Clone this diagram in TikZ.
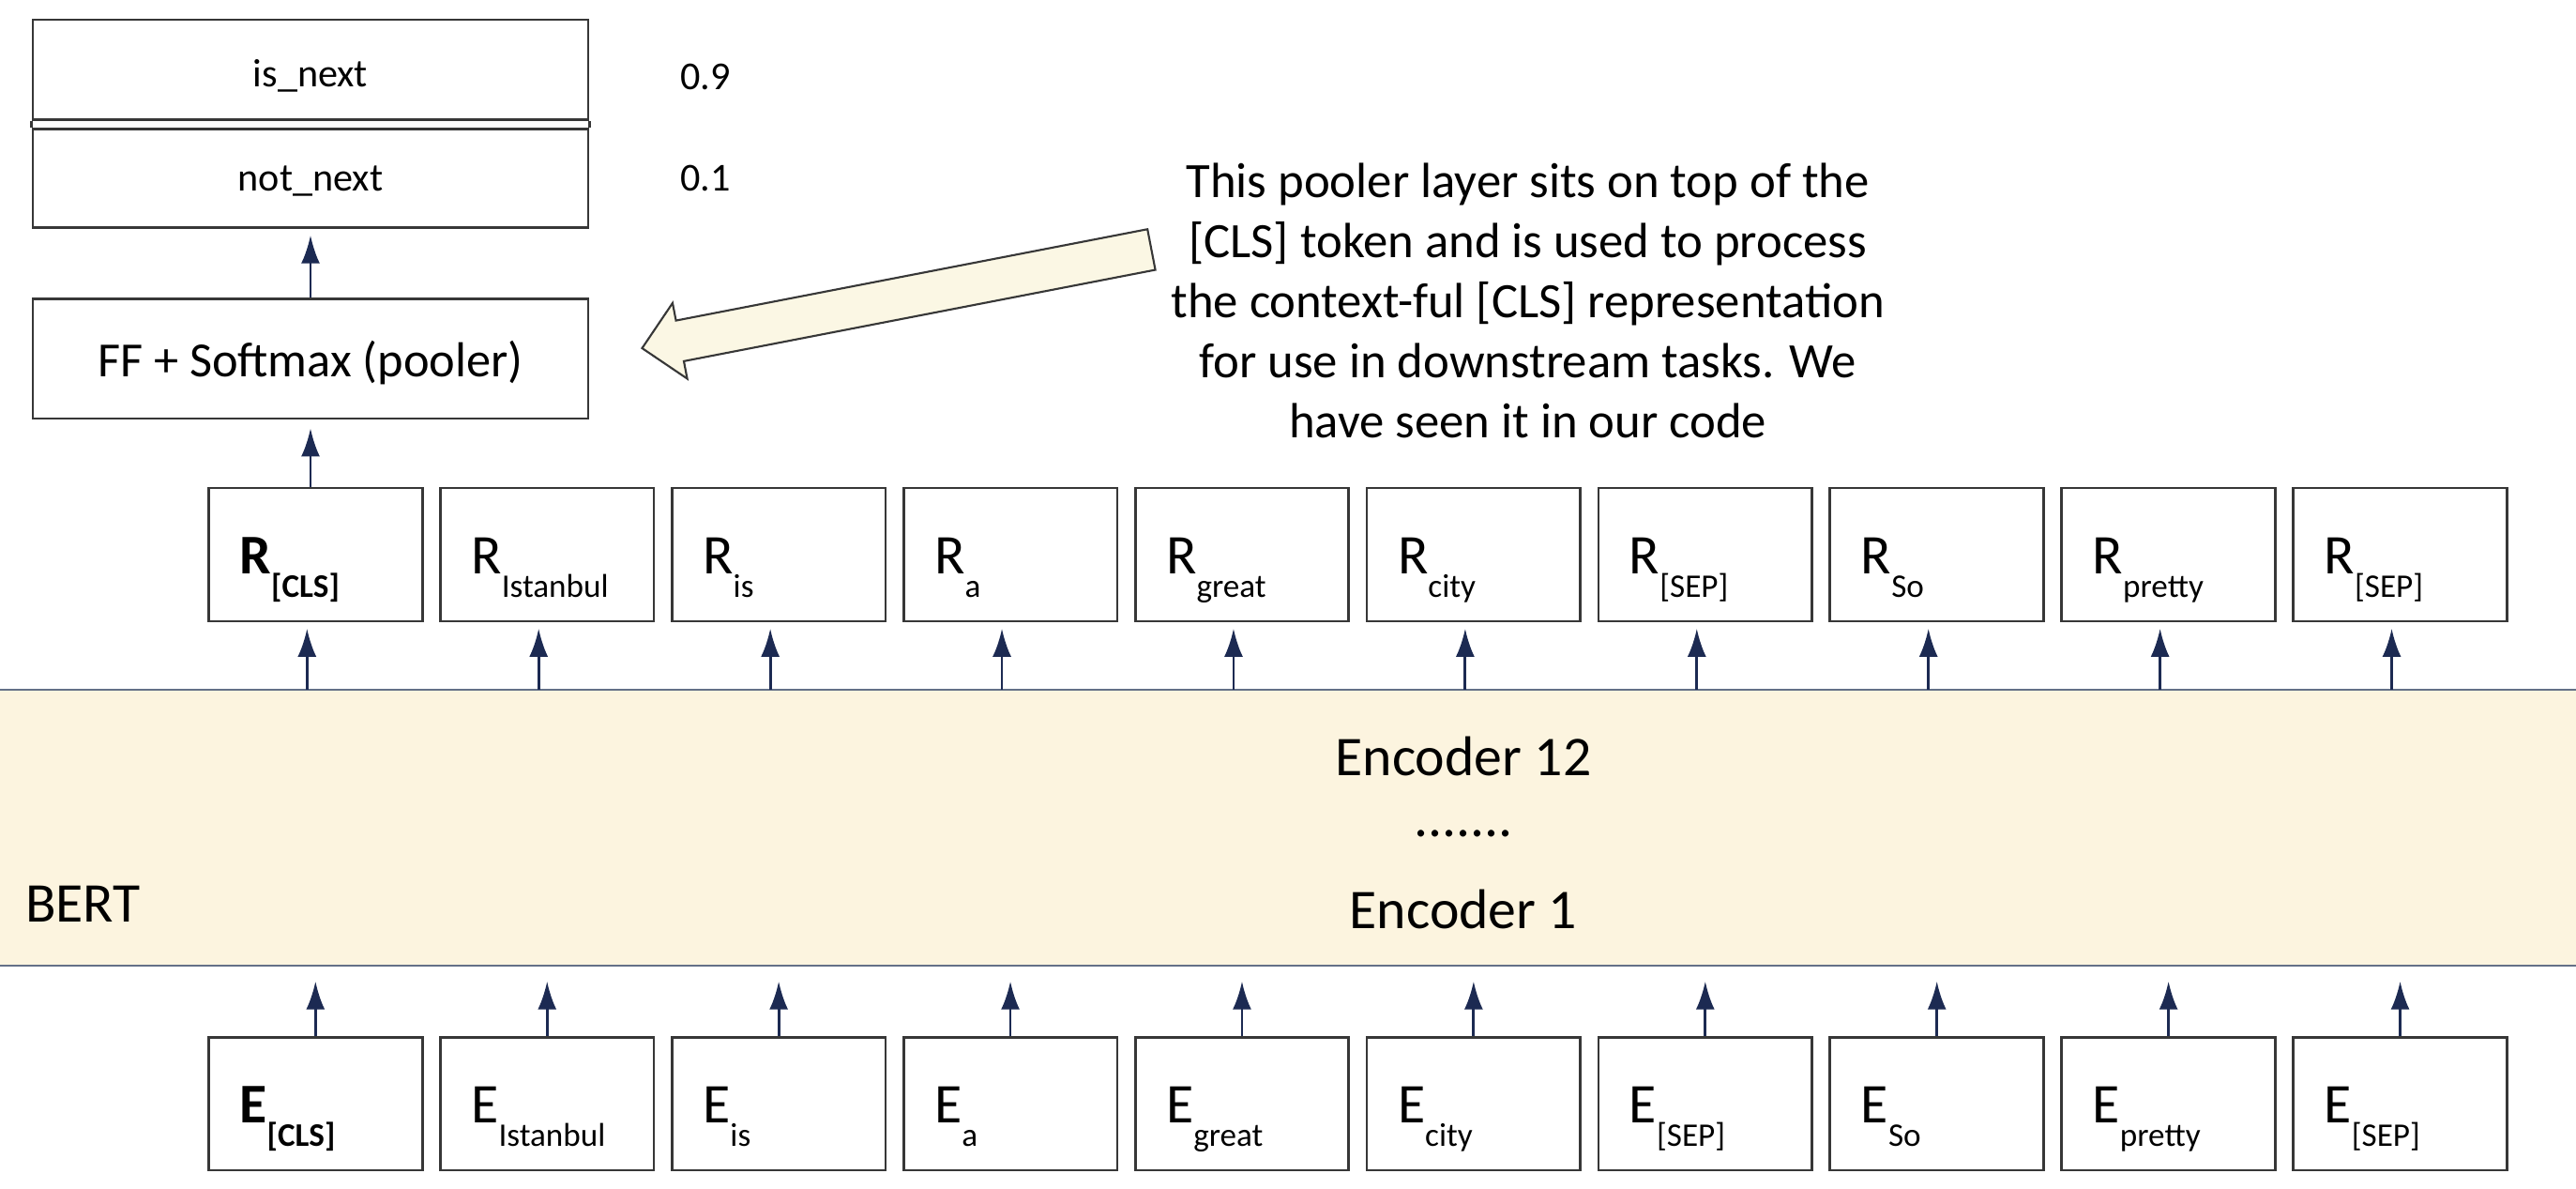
\documentclass[tikz,border=0pt]{standalone}
\usepackage{fontspec}
\setmainfont{Carlito}
\usepackage{tikz}
\usetikzlibrary{shapes.arrows,positioning,arrows.meta}

\definecolor{encfill}{RGB}{252,244,223}
\definecolor{encline}{RGB}{100,112,135}
\definecolor{tipblue}{RGB}{28,42,82}
\definecolor{boxline}{RGB}{55,55,55}
\definecolor{calloutfill}{RGB}{251,247,228}

\newcommand{\tok}[2]{#1\raisebox{-7.3pt}{\fontsize{10}{10}\selectfont #2}}

\tikzset{
  tokbox/.style={draw=boxline, line width=0.8pt, rectangle, minimum width=2.277cm, minimum height=1.419cm,
    inner xsep=0.33cm, text width=1.617cm, align=left, text height=0.45cm, text depth=0.05cm,
    font=\fontsize{17}{18}\selectfont},
  headbox/.style={draw=boxline, line width=0.8pt, rectangle, minimum width=5.92cm, text depth=0pt,
    font=\fontsize{12}{14}\selectfont},
  flow/.style={->, draw=tipblue, line width=0.8pt, shorten >=0.065cm},
  callout/.style={single arrow, draw=boxline, fill=calloutfill, line width=0.6pt, inner sep=0pt,
    text height=0.42cm, text depth=0pt, minimum height=5.53cm, single arrow head extend=0.19cm}
}

\begin{document}
\begin{tikzpicture}[>={Latex[length=0.3cm,width=0.2cm]}]
    \useasboundingbox (0,0) rectangle (27.46,-12.66);

    % output head
    \node [headbox, minimum height=1.068cm, text height=0.37cm] (isnext) at (3.31,-0.744) {is\_next};
    \node [headbox, minimum height=1.05cm, below=0.072cm of isnext] (notnext) {not\_next};
    \draw [boxline, line width=0.8pt] (isnext.south west) -- (notnext.north west);
    \draw [boxline, line width=0.8pt] (isnext.south east) -- (notnext.north east);
    \node [inner sep=0pt, font=\fontsize{12}{14}\selectfont, right=0.963cm of isnext, yshift=-0.08cm] (pnext) {0.9};
    \node [inner sep=0pt, font=\fontsize{12}{14}\selectfont, right=0.963cm of notnext] (pnotnext) {0.1};

    \node [headbox, minimum height=1.279cm, below=0.725cm of notnext, font=\fontsize{14.9}{18}\selectfont] (pooler) {FF + Softmax (pooler)};
    \draw [flow] (pooler) -- (notnext);

    % callout
    \node [callout, rotate=190.96, anchor=tip] (pointer) at (6.830,-3.713) {};
    \node [align=center, font=\fontsize{15}{18.2}\selectfont] (note) at (16.287,-3.205)
        {This pooler layer sits on top of the\\{}[CLS] token and is used to process\\the context-ful [CLS] representation\\for use in downstream tasks. We\\have seen it in our code};

    % BERT encoders
    \node [fill=encfill, minimum width=27.46cm, minimum height=2.925cm, inner sep=0pt] (enc) at (13.73,-8.8175) {};
    \draw [encline, line width=0.7pt] (enc.north west) -- (enc.north east);
    \draw [encline, line width=0.7pt] (enc.south west) -- (enc.south east);
    \node [font=\fontsize{17}{20}\selectfont] (enctop) at (15.60,-8.056) {Encoder 12};
    \node [font=\fontsize{17}{20}\selectfont] (encdots) at (15.60,-8.88) {.......};
    \node [font=\fontsize{17}{20}\selectfont] (encbot) at (15.60,-9.685) {Encoder 1};
    \node [font=\fontsize{17}{20}\selectfont, anchor=west, inner sep=0pt] (bert) at (0.263,-9.632) {BERT};

    % output representations
    \node [tokbox] (rcls) at (3.363,-5.910) {\bfseries\tok{R}{[CLS]}};
    \node [tokbox, right=0.164cm of rcls] (rist) {\tok{R}{Istanbul}};
    \node [tokbox, right=0.164cm of rist] (ris) {\tok{R}{is}};
    \node [tokbox, right=0.164cm of ris] (ra) {\tok{R}{a}};
    \node [tokbox, right=0.164cm of ra] (rgreat) {\tok{R}{great}};
    \node [tokbox, right=0.164cm of rgreat] (rcity) {\tok{R}{city}};
    \node [tokbox, right=0.164cm of rcity] (rsep) {\tok{R}{[SEP]}};
    \node [tokbox, right=0.164cm of rsep] (rso) {\tok{R}{So}};
    \node [tokbox, right=0.164cm of rso] (rpretty) {\tok{R}{pretty}};
    \node [tokbox, right=0.164cm of rpretty] (rsepb) {\tok{R}{[SEP]}};

    % input embeddings
    \node [tokbox, below=4.403cm of rcls] (ecls) {\bfseries\tok{E}{[CLS]}};
    \node [tokbox, right=0.164cm of ecls] (eist) {\tok{E}{Istanbul}};
    \node [tokbox, right=0.164cm of eist] (eis) {\tok{E}{is}};
    \node [tokbox, right=0.164cm of eis] (ea) {\tok{E}{a}};
    \node [tokbox, right=0.164cm of ea] (egreat) {\tok{E}{great}};
    \node [tokbox, right=0.164cm of egreat] (ecity) {\tok{E}{city}};
    \node [tokbox, right=0.164cm of ecity] (esep) {\tok{E}{[SEP]}};
    \node [tokbox, right=0.164cm of esep] (eso) {\tok{E}{So}};
    \node [tokbox, right=0.164cm of eso] (epretty) {\tok{E}{pretty}};
    \node [tokbox, right=0.164cm of epretty] (esepb) {\tok{E}{[SEP]}};

    \draw [flow, shorten >=0.09cm] (pooler |- rcls.north) -- (pooler);

    \draw [flow] ([xshift=-0.09cm]rcls.south |- enc.north) -- ([xshift=-0.09cm]rcls.south);
    \draw [flow] ([xshift=-0.09cm]rist.south |- enc.north) -- ([xshift=-0.09cm]rist.south);
    \draw [flow] ([xshift=-0.09cm]ris.south |- enc.north) -- ([xshift=-0.09cm]ris.south);
    \draw [flow] ([xshift=-0.09cm]ra.south |- enc.north) -- ([xshift=-0.09cm]ra.south);
    \draw [flow] ([xshift=-0.09cm]rgreat.south |- enc.north) -- ([xshift=-0.09cm]rgreat.south);
    \draw [flow] ([xshift=-0.09cm]rcity.south |- enc.north) -- ([xshift=-0.09cm]rcity.south);
    \draw [flow] ([xshift=-0.09cm]rsep.south |- enc.north) -- ([xshift=-0.09cm]rsep.south);
    \draw [flow] ([xshift=-0.09cm]rso.south |- enc.north) -- ([xshift=-0.09cm]rso.south);
    \draw [flow] ([xshift=-0.09cm]rpretty.south |- enc.north) -- ([xshift=-0.09cm]rpretty.south);
    \draw [flow] ([xshift=-0.09cm]rsepb.south |- enc.north) -- ([xshift=-0.09cm]rsepb.south);

    \draw [flow, shorten >=0.17cm] (ecls) -- (ecls |- enc.south);
    \draw [flow, shorten >=0.17cm] (eist) -- (eist |- enc.south);
    \draw [flow, shorten >=0.17cm] (eis) -- (eis |- enc.south);
    \draw [flow, shorten >=0.17cm] (ea) -- (ea |- enc.south);
    \draw [flow, shorten >=0.17cm] (egreat) -- (egreat |- enc.south);
    \draw [flow, shorten >=0.17cm] (ecity) -- (ecity |- enc.south);
    \draw [flow, shorten >=0.17cm] (esep) -- (esep |- enc.south);
    \draw [flow, shorten >=0.17cm] (eso) -- (eso |- enc.south);
    \draw [flow, shorten >=0.17cm] (epretty) -- (epretty |- enc.south);
    \draw [flow, shorten >=0.17cm] (esepb) -- (esepb |- enc.south);
\end{tikzpicture}
\end{document}
